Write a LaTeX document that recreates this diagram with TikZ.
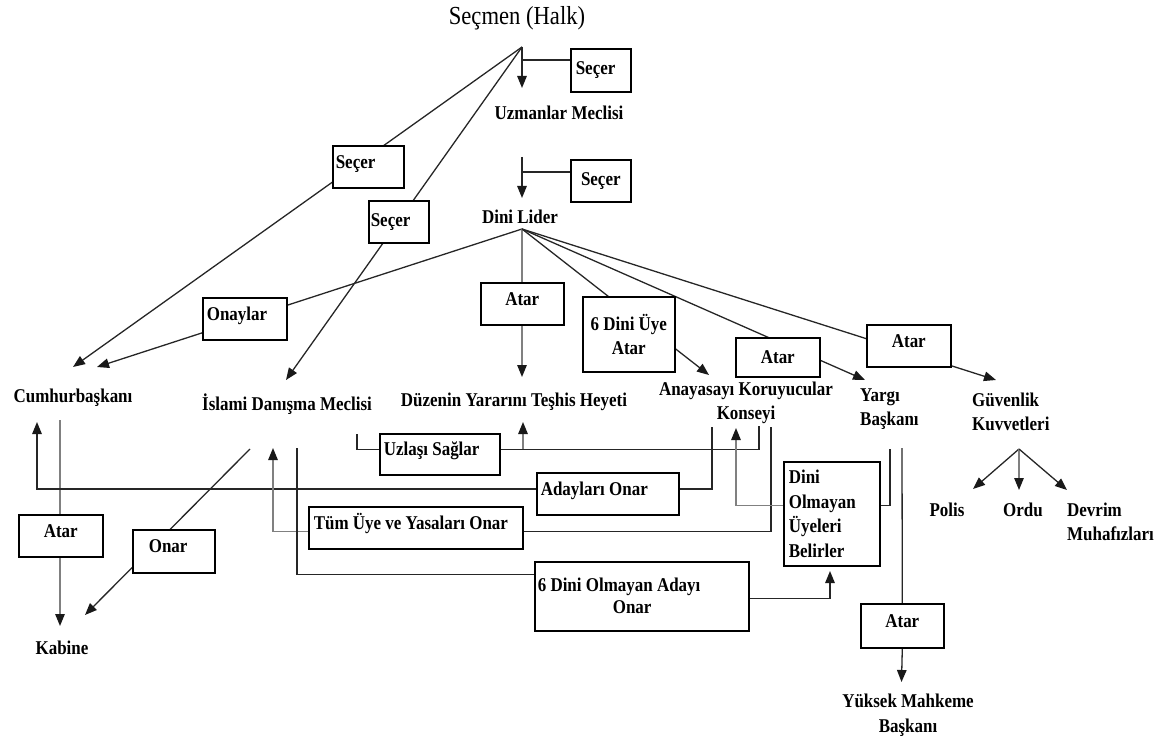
\documentclass[tikz,border=0pt]{standalone}
\usepackage{fontspec}
\setmainfont{Liberation Serif}[FakeStretch=0.87]
\usetikzlibrary{arrows.meta,backgrounds}
\begin{document}
\begin{tikzpicture}[x=1pt,y=-1pt,
  con/.style={line width=1.3pt, draw=black!85},
  gcon/.style={line width=1.3pt, draw=black!50},
  arr/.style={-{Triangle[length=12pt,width=9.5pt,color=black!90]}},
  bx/.style={draw, line width=1.6pt, fill=white, anchor=north west, inner sep=0pt, font=\bfseries\fontsize{19.5}{24}\selectfont},
  up/.style={text height=13pt, text depth=10pt},
  lbl/.style={inner sep=0pt, font=\bfseries\fontsize{19.5}{24.5}\selectfont},
]
\useasboundingbox (0,0) rectangle (1175,738);

% text nodes
\node[inner sep=0pt, font=\fontsize{26}{30}\selectfont] (title) at (517,18) {Seçmen (Halk)};
\node[lbl] (uzm) at (559,113) {Uzmanlar Meclisi};
\node[lbl] (dini) at (520,217) {Dini Lider};
\node[lbl] (cumh) at (73,398) {Cumhurbaşkanı};
\node[lbl] (islami) at (287,404) {İslami Danışma Meclisi};
\node[lbl] (duz) at (514,402) {Düzenin Yararını Teşhis Heyeti};
\node[lbl, align=center] (anay) at (746,403) {Anayasayı Koruyucular\\Konseyi};
\node[lbl, align=flush left, anchor=west] (yargi) at (860,409) {Yargı\\Başkanı};
\node[lbl, align=flush left, anchor=west] (guv) at (972,412) {Güvenlik\\Kuvvetleri};
\node[lbl] (polis) at (947,510) {Polis};
\node[lbl] (ordu) at (1023,510) {Ordu};
\node[lbl, align=flush left, anchor=west] (devrim) at (1067,522) {Devrim\\Muhafızları};
\node[lbl] (kabine) at (62,648) {Kabine};
\node[lbl, align=center] (yuksek) at (908,715) {Yüksek Mahkeme\\Başkanı};

% boxes
\node[bx, minimum width=60pt, minimum height=43pt, align=flush left, text width=50pt, inner xsep=5pt] (sec1) at (570,48) {Seçer};
\node[bx, minimum width=60pt, minimum height=42pt] (sec2) at (570,159) {Seçer};
\node[bx, minimum width=71pt, minimum height=42pt, align=flush left, text width=65pt, inner xsep=3pt, up] (sec3) at (332,145) {Seçer};
\node[bx, minimum width=60pt, minimum height=42pt, align=flush left, text width=56pt, inner xsep=2pt] (sec4) at (368,200) {Seçer};
\node[bx, minimum width=84pt, minimum height=42pt, align=flush left, text width=76pt, inner xsep=4pt, up] (onay) at (202,297) {Onaylar};
\node[bx, minimum width=83pt, minimum height=42pt, up] (atar1) at (480,282) {Atar};
\node[bx, minimum width=92pt, minimum height=75pt, align=center] (dini6) at (582,296) {6 Dini Üye\\Atar};
\node[bx, minimum width=84pt, minimum height=39pt] (atar2) at (735,337) {Atar};
\node[bx, minimum width=84pt, minimum height=42pt, up] (atar3) at (866,324) {Atar};
\node[bx, minimum width=120pt, minimum height=41pt, align=flush left, text width=112pt, inner xsep=4pt, up] (uzl) at (379,433) {Uzlaşı Sağlar};
\node[bx, minimum width=142pt, minimum height=42pt, align=flush left, text width=134pt, inner xsep=4pt, up] (aday) at (536,472) {Adayları Onar};
\node[bx, minimum width=214pt, minimum height=42pt, align=flush left, text width=204pt, inner xsep=5pt, up] (tum) at (308,506) {Tüm Üye ve Yasaları Onar};
\node[bx, minimum width=214pt, minimum height=69pt, align=flush left, text width=208pt, inner xsep=3pt, font=\bfseries\fontsize{19.5}{22}\selectfont] (olmaday) at (534,561) {6 Dini Olmayan Adayı\\\hspace*{75pt}Onar};
\node[bx, minimum width=96pt, minimum height=104pt, align=flush left, text width=86pt, inner xsep=5pt, font=\bfseries\fontsize{19.5}{24.6}\selectfont] (belir) at (783,461) {Dini\\Olmayan\\Üyeleri\\Belirler};
\node[bx, minimum width=84pt, minimum height=42pt, up] (atar4) at (18,514) {Atar};
\node[bx, minimum width=82pt, minimum height=43pt, align=flush left, text width=50pt, inner xsep=16pt, up] (onar) at (132,529) {Onar};
\node[bx, minimum width=83pt, minimum height=44pt, up] (atar5) at (860,603) {Atar};

% coordinates
\coordinate (ap) at (522,47);
\coordinate (dl) at (522,229);
\coordinate (gk) at (1019,449);
\coordinate (h1) at (522,60);
\coordinate (h2) at (522,172);
\coordinate (uzmT) at (522,88);
\coordinate (uzmB) at (522,157);
\coordinate (diniT) at (522,198);
\coordinate (cumT1) at (73,367);
\coordinate (cumT2) at (97,367);
\coordinate (isT) at (286,380);
\coordinate (duzT) at (522,377);
\coordinate (anT) at (709,375);
\coordinate (yarT) at (865,380);
\coordinate (guvT) at (996,380);
\coordinate (polT) at (973,489);
\coordinate (ordT) at (1019,490);
\coordinate (devT) at (1067,490);
\coordinate (cumB) at (60,420);
\coordinate (kabT) at (60,626);
\coordinate (cumA) at (37,422);
\coordinate (anA1) at (712,427);
\coordinate (isB1) at (250,449);
\coordinate (kabT2) at (85,615);
\coordinate (anA2) at (771,427);
\coordinate (isT2) at (273,448);
\coordinate (isB3) at (297,448);
\coordinate (isB4) at (357,434);
\coordinate (anA3) at (759,426);
\coordinate (ub) at (523,449);
\coordinate (duzB) at (523,422);
\coordinate (anT2) at (736,428);
\coordinate (yarB1) at (890,449);
\coordinate (yarB2) at (902,448);
\coordinate (yukT) at (901.5,682);
\coordinate (belT) at (830,571);

\begin{pgfonlayer}{background}
\draw[con,arr] (ap) -- (uzmT);
\draw[con] (h1) -- (h1 -| sec1.west);
\draw[con,arr] (ap) -- (cumT1);
\draw[con,arr] (ap) -- (isT);
\draw[con,arr] (uzmB) -- (diniT);
\draw[con] (h2) -- (h2 -| sec2.west);
\draw[con,arr] (dl) -- (cumT2);
\draw[gcon,arr] (dl) -- (duzT);
\draw[con,arr] (dl) -- (anT);
\draw[con,arr] (dl) -- (yarT);
\draw[con,arr] (dl) -- (guvT);
\draw[con,arr] (gk) -- (polT);
\draw[gcon,arr] (gk) -- (ordT);
\draw[con,arr] (gk) -- (devT);
\draw[gcon,arr] (cumB) -- (kabT);
\draw[con,arr] (anA1) -- ++(0,62) -| (cumA);
\draw[con,arr] (isB1) -- (kabT2);
\draw[con] (anA2) |- ([yshift=-4pt]tum.east);
\draw[gcon,arr] ([yshift=-4pt]tum.west) -| (isT2);
\draw[con] (isB3) |- ([yshift=21.5pt]olmaday.west);
\draw[con,arr] ([yshift=-2.5pt]olmaday.east) -| (belT);
\draw[con] (isB4) |- ([yshift=4.5pt]uzl.west);
\draw[con] ([yshift=4.5pt]uzl.east) -| (anA3);
\draw[gcon,arr] (ub) -- (duzB);
\draw[gcon,arr] ([yshift=8pt]belir.west) -| (anT2);
\draw[con] ([yshift=8pt]belir.east) -| (yarB1);
\draw[con] (yarB2) -- (atar5.north);
\draw[con,arr] (atar5.south) -- (yukT);
\end{pgfonlayer}
\end{tikzpicture}
\end{document}
